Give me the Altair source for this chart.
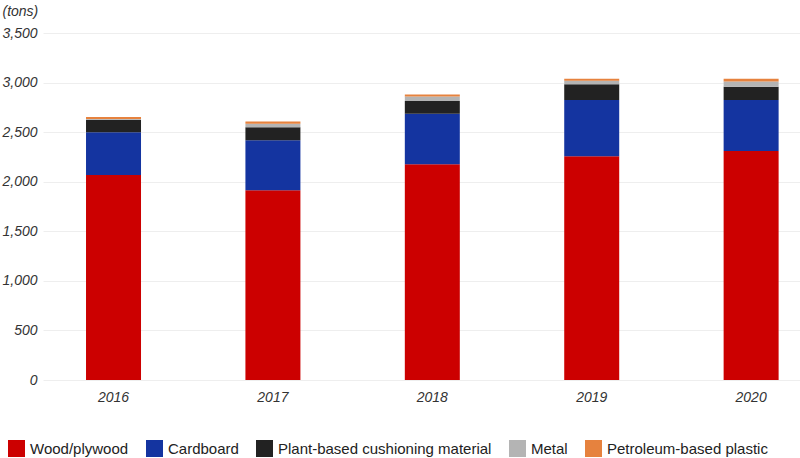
import altair as alt
import pandas as pd

years = ["2016", "2017", "2018", "2019", "2020"]
materials = ["Wood/plywood", "Cardboard", "Plant-based cushioning material", "Metal", "Petroleum-based plastic"]
wood = [2067, 1915, 2175, 2256, 2310]
cardboard = [433, 503, 510, 568, 514]
plant = [124, 132, 129, 158, 134]
metal = [8, 34, 46, 37, 54]
plastic = [20, 23, 20, 20, 27]
colors = ["#cc0000", "#1434a0", "#222222", "#b4b4b4", "#e6823e"]

series = [wood, cardboard, plant, metal, plastic]
rows = []
for mi, (m, vals) in enumerate(zip(materials, series)):
    for y, v in zip(years, vals):
        rows.append({"year": y, "material": m, "value": v, "idx": mi})
df = pd.DataFrame(rows)

FONT = "Liberation Sans"

chart = alt.Chart(df).mark_bar().encode(
    x=alt.X("year:N", title=None,
            scale=alt.Scale(paddingInner=0.655, paddingOuter=0.202, align=0.668),
            axis=alt.Axis(labelAngle=0, labelFontStyle="italic", labelFontSize=14,
                          labelColor="#333333", labelFont=FONT, ticks=False,
                          domain=False, labelPadding=10)),
    y=alt.Y("value:Q", stack="zero",
            scale=alt.Scale(domain=[0, 3500], nice=False),
            axis=alt.Axis(values=[0, 500, 1000, 1500, 2000, 2500, 3000, 3500],
                          format=",.0f", title="(tons)", titleAngle=0, titleAlign="left",
                          titleX=-41, titleY=-15, titleFontStyle="italic",
                          titleFontWeight="normal", titleFontSize=14, titleFont=FONT,
                          titleColor="#333333",
                          labelFontStyle="italic", labelFontSize=14, labelFont=FONT,
                          labelColor="#333333", ticks=False, domain=False,
                          labelPadding=6, gridColor="#eeeeee", gridWidth=1)),
    color=alt.Color("material:N",
                    scale=alt.Scale(domain=materials, range=colors),
                    legend=alt.Legend(title=None, orient="none", direction="horizontal",
                                      columns=5, legendX=-35, legendY=407,
                                      symbolType="square", symbolSize=289,
                                      symbolStrokeWidth=0, labelFontSize=15,
                                      labelFont=FONT, labelColor="#222222",
                                      labelLimit=400,
                                      labelOffset=5, columnPadding=17)),
    order=alt.Order("idx:Q", sort="ascending"),
).properties(
    width=757, height=347,
    autosize=alt.AutoSizeParams(type="none"),
    padding={"left": 43, "top": 33, "right": 0, "bottom": 78},
).configure_view(stroke=None)

chart.save("out.html", embed_options={"renderer": "svg", "actions": False})
